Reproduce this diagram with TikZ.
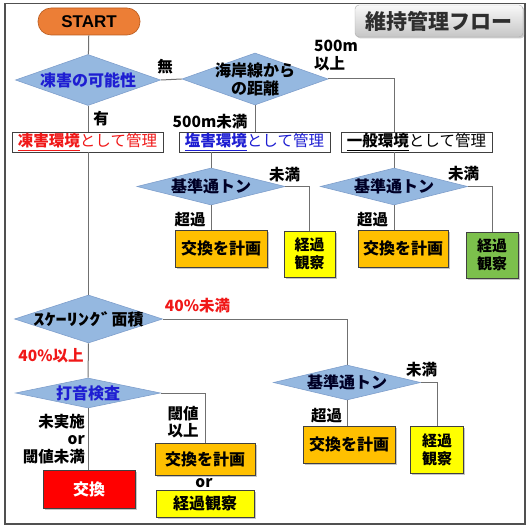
\documentclass[tikz,border=0pt]{standalone}
\usepackage{fontspec}
\setmainfont{Noto Sans CJK JP}
\newfontfamily\lat{Liberation Sans}
\usetikzlibrary{shapes.geometric,shadows}
\definecolor{linegray}{HTML}{707070}
\definecolor{framegray}{HTML}{505050}
\definecolor{diafill}{HTML}{95B8E0}
\definecolor{diaedge}{HTML}{7F9FCC}
\definecolor{startfill}{HTML}{EC7E36}
\definecolor{startedge}{HTML}{B85A1E}
\definecolor{orfill}{HTML}{FFC000}
\definecolor{yelfill}{HTML}{FFFF00}
\definecolor{grnfill}{HTML}{7CC04C}
\definecolor{redfill}{HTML}{FF0000}
\definecolor{bluetext}{HTML}{1E1ED2}
\definecolor{redtext}{HTML}{F01818}
\definecolor{boxedge}{HTML}{404040}
\begin{document}
\begin{tikzpicture}[x=1pt,y=-1pt,
  conn/.style={draw=linegray, line width=1pt},
  dia/.style={diamond, draw=diaedge, fill=diafill, inner sep=0pt, line width=0.6pt},
  dtext/.style={inner sep=0pt, font=\fontsize{16}{18}\selectfont\bfseries},
  envbox/.style={rectangle, draw=boxedge, fill=white, line width=0.8pt, inner sep=0pt, minimum width=151pt, minimum height=20pt, font=\fontsize{15.5}{17}\selectfont},
  actbox/.style={rectangle, draw=boxedge, line width=0.8pt, inner sep=0pt, align=center,
     font=\fontsize{16}{18}\selectfont\bfseries,
     drop shadow={shadow xshift=1.5pt, shadow yshift=-1.5pt, opacity=0.45}},
  lbl/.style={inner sep=0pt, font=\fontsize{15.5}{17.5}\selectfont\bfseries},
]
\useasboundingbox (0,0) rectangle (530,532);
\draw[framegray, line width=1.2pt] (5,3.5) rectangle (525,524);

% title
\node[rectangle, rounded corners=4pt, top color=gray!5, bottom color=gray!45, draw=gray!65,
  minimum width=168pt, minimum height=32pt, inner sep=0pt,
  drop shadow={shadow xshift=1.5pt, shadow yshift=-1.5pt, opacity=0.4},
  text=black!82, font=\fontsize{21}{21}\selectfont\bfseries] (title) at (439,21) {維持管理フロー};

% start
\node[rectangle, rounded corners=13pt, fill=startfill, draw=startedge, line width=0.6pt,
  minimum width=102pt, minimum height=27pt, inner sep=0pt,
  font=\lat\bfseries\fontsize{17}{17}\selectfont] (start) at (89,21.5) {START};

% diamonds
\node[dia, minimum width=145pt, minimum height=51pt] (d1) at (88,80) {};
\node[dtext, text=bluetext] (d1t) at (d1) {凍害の可能性};
\node[dia, minimum width=146pt, minimum height=52pt] (d2) at (255,79) {};
\node[dtext, align=center] (d2t) at (d2) {海岸線から\\の距離};
\node[dia, minimum width=148pt, minimum height=37pt] (d3) at (211,186.5) {};
\node[dtext, text=black!85!blue] (d3t) at (d3) {基準通トン};
\node[dia, minimum width=147pt, minimum height=37pt] (d4) at (394,186.5) {};
\node[dtext, text=black!85!blue] (d4t) at (d4) {基準通トン};
\node[dia, minimum width=148pt, minimum height=48pt] (d5) at (88.5,319) {};
\node[dtext] (d5t) at (d5) {\scalebox{1.4}[1]{ｽｹｰﾘﾝｸﾞ}面積};
\node[dia, minimum width=147pt, minimum height=35pt] (d6) at (347,382.5) {};
\node[dtext, text=black!85!blue] (d6t) at (d6) {基準通トン};
\node[dia, minimum width=145pt, minimum height=30pt] (d7) at (88,393) {};
\node[dtext, text=bluetext] (d7t) at (d7) {打音検査};

% environment boxes
\node[envbox, text=redtext] (b1) at (87.5,142) {\underline{\textbf{凍害環境}}として管理};
\node[envbox, text=bluetext] (b2) at (254.5,142) {\underline{\textbf{塩害環境}}として管理};
\node[envbox] (b3) at (416.5,142) {\underline{\textbf{一般環境}}として管理};

% action boxes
\node[actbox, fill=orfill, minimum width=92pt, minimum height=37pt] (e1) at (221,248.5) {交換を計画};
\node[actbox, fill=yelfill, minimum width=51pt, minimum height=46pt, font=\fontsize{15}{18}\selectfont\bfseries] (y1) at (309.5,254) {経過\\観察};
\node[actbox, fill=orfill, minimum width=90pt, minimum height=37pt] (e2) at (403,248.5) {交換を計画};
\node[actbox, fill=grnfill, minimum width=52pt, minimum height=46pt, font=\fontsize{15}{18}\selectfont\bfseries] (g1) at (492,255) {経過\\観察};
\node[actbox, fill=orfill, minimum width=92pt, minimum height=37pt] (e3) at (349,444.5) {交換を計画};
\node[actbox, fill=yelfill, minimum width=53pt, minimum height=47pt, font=\fontsize{15}{18}\selectfont\bfseries] (y3) at (437,449.5) {経過\\観察};
\node[actbox, fill=orfill, minimum width=100pt, minimum height=32pt] (e4) at (205,459) {交換を計画};
\node[actbox, fill=yelfill, minimum width=98pt, minimum height=27pt] (y4) at (205,503.5) {経過観察};
\node[actbox, fill=redfill, text=white, minimum width=92pt, minimum height=38pt] (r1) at (89,489) {交換};

% connectors
\draw[conn] (start) -- (d1);
\draw[conn] (d1.east) -- (d2.west);
\draw[conn] (d2.east) -- (d2.east -| d4.north) -- (d4.north |- b3.north);
\draw[conn] (d2.south) -- (d2.south |- b2.north);
\draw[conn] (d1.south) -- (d1.south |- b1.north);
\draw[conn] (d5.north |- b1.south) -- (d5.north);
\draw[conn] (d3.north |- b2.south) -- (d3.north);
\draw[conn] (d3.south) -- (d3.south |- e1.north);
\draw[conn] (d3.east) -| (y1.north);
\draw[conn] (d4.north |- b3.south) -- (d4.north);
\draw[conn] (d4.south) -- (d4.south |- e2.north);
\draw[conn] (d4.east) -| (g1.north);
\draw[conn] (d5.east) -| (d6.north);
\draw[conn] (d5.south) -- (d7.north);
\draw[conn] (d6.south) -- (d6.south |- e3.north);
\draw[conn] (d6.east) -| (y3.north);
\draw[conn] (d7.east) -| (e4.north);
\draw[conn] (d7.south) -- (d7.south |- r1.north);

% labels
\node[lbl] (l1) at (165,67) {無};
\node[lbl] (l2) at (101,119) {有};
\node[lbl] (l3) at (210,122) {500m未満};
\node[lbl, align=left, anchor=north west] (l4) at (314,40) {500m\\以上};
\node[lbl] (l5) at (284.5,175) {未満};
\node[lbl] (l6) at (190,220) {超過};
\node[lbl] (l7) at (463.5,173.5) {未満};
\node[lbl] (l8) at (372.5,220) {超過};
\node[lbl, text=redtext] (l9) at (197.5,305.5) {40\%未満};
\node[lbl, text=redtext] (l10) at (51,356) {40\%以上};
\node[lbl] (l11) at (421.5,370) {未満};
\node[lbl] (l12) at (326.5,416) {超過};
\node[lbl, align=center] (l13) at (183,422) {閾値\\以上};
\node[lbl, align=right, anchor=east, font=\fontsize{15.5}{17.5}\selectfont\bfseries] (l14) at (85,439) {未実施\\or\\閾値未満};
\node[lbl] (l15) at (204,483) {or};
\end{tikzpicture}
\end{document}
